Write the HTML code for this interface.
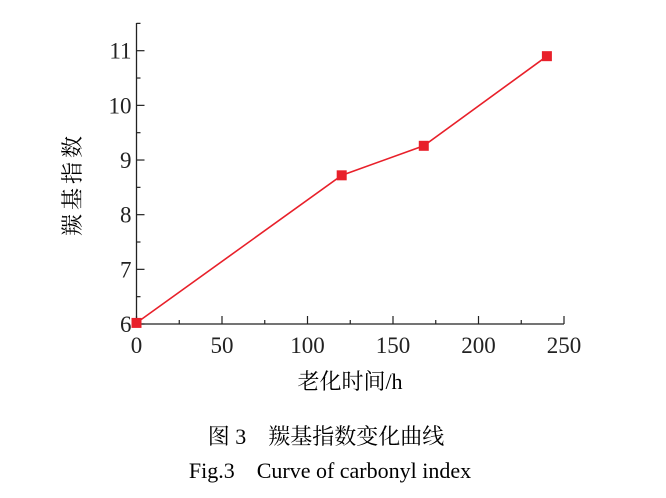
<!DOCTYPE html>
<html><head><meta charset="utf-8"><style>
body{margin:0;background:#fff;}
svg{display:block;font-family:"Liberation Serif","Noto Serif CJK SC",serif;}
</style></head><body>
<svg id="chart" width="666" height="498">
<g id="axes"></g>
<g id="marks"></g>
<text x="80" y="184" font-size="22" letter-spacing="4" text-anchor="middle" transform="rotate(-90 80 184)" font-family="'Noto Serif CJK SC',serif">羰基指数</text>
<text x="350" y="389" font-size="22" text-anchor="middle" font-family="'Liberation Serif','Noto Serif CJK SC',serif">老化时间/h</text>
<text x="326" y="444" font-size="22" text-anchor="middle" font-family="'Liberation Serif','Noto Serif CJK SC',serif">图 3　羰基指数变化曲线</text>
<text x="330" y="478" font-size="22" text-anchor="middle">Fig.3　Curve of carbonyl index</text>
</svg>
<script>
const xTicks=[0,50,100,150,200,250];
const yTicks=[6,7,8,9,10,11];
const times=[0,120,168,240];
const values=[6.02,8.72,9.26,10.9];
const X0=136.5,X1=564,Y0=324,Y1=50.7;
const sx=v=>X0+(v-0)*(X1-X0)/250;
const sy=v=>Y0-(v-6)*(Y0-Y1)/5;
const NS="http://www.w3.org/2000/svg";
const ax=document.getElementById('axes'),mk=document.getElementById('marks');
function mkEl(t,a,p){const e=document.createElementNS(NS,t);for(const k in a)e.setAttribute(k,a[k]);p.appendChild(e);return e;}
let l=mkEl('line',{x1:X0,y1:23,x2:X0,y2:Y0,stroke:'#222','stroke-width':1.3},ax);


l=mkEl('line',{x1:X0,y1:Y0,x2:X1,y2:Y0,stroke:'#222','stroke-width':1.3},ax);


xTicks.forEach((v,i)=>{
  const x=sx(v);
  const t=mkEl('line',{x1:x,y1:Y0,x2:x,y2:Y0-8,stroke:'#222','stroke-width':1.2},ax);
  
  
  if(i<xTicks.length-1){const m=mkEl('line',{x1:sx(v+25),y1:Y0,x2:sx(v+25),y2:Y0-4,stroke:'#222','stroke-width':1.2},ax);
  
  }
  const tx=mkEl('text',{x:x,y:Y0+29,'font-size':23,'text-anchor':'middle',fill:'#222'},ax);
  tx.textContent=v;
  
  
});
yTicks.forEach((v,i)=>{
  const y=sy(v);
  const t=mkEl('line',{x1:X0,y1:y,x2:X0+8,y2:y,stroke:'#222','stroke-width':1.2},ax);
  
  
  const m=mkEl('line',{x1:X0,y1:sy(v+0.5),x2:X0+4,y2:sy(v+0.5),stroke:'#222','stroke-width':1.2},ax);
  
  
  const tx=mkEl('text',{x:X0-5,y:y+8,'font-size':23,'text-anchor':'end',fill:'#222'},ax);
  tx.textContent=v;
  
  
});
const pl=mkEl('polyline',{points:times.map((t,i)=>sx(t)+','+sy(values[i])).join(' '),fill:'none',stroke:'#e8202a','stroke-width':1.6},mk);


times.forEach((t,i)=>{
  const r=mkEl('rect',{x:sx(t)-5,y:sy(values[i])-5,width:10,height:10,fill:'#e8202a'},mk);
  
  
});
</script>
</body></html>
